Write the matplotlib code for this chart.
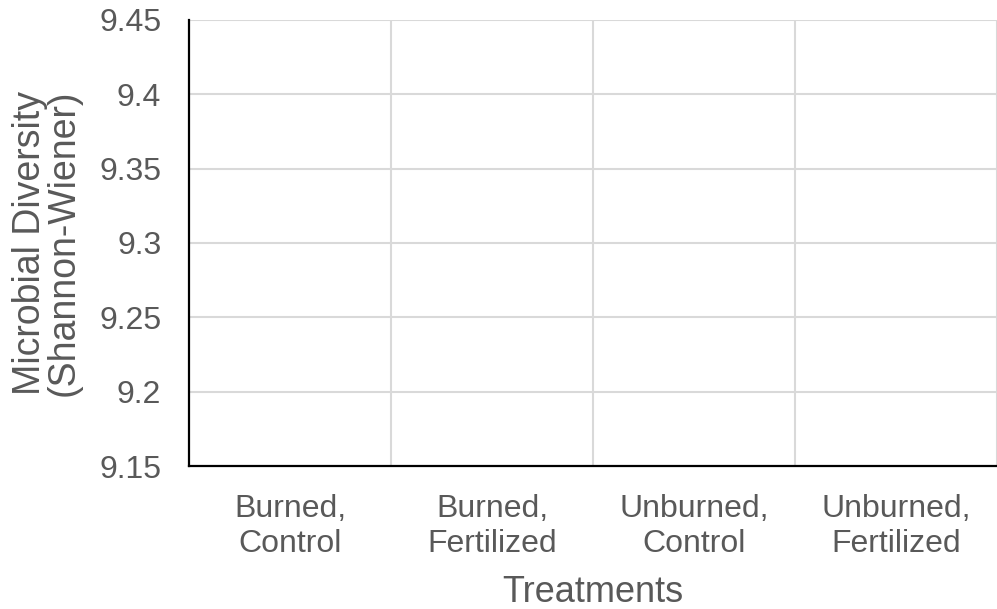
import matplotlib
matplotlib.use("Agg")
import matplotlib.pyplot as plt
import numpy as np

categories = ["Burned,\nControl", "Burned,\nFertilized", "Unburned,\nControl", "Unburned,\nFertilized"]
yticks = [9.15, 9.2, 9.25, 9.3, 9.35, 9.4, 9.45]
ytick_labels = ["9.15", "9.2", "9.25", "9.3", "9.35", "9.4", "9.45"]
values = []  # the chart shows no data marks

plt.rcParams['font.family'] = ['Liberation Sans', 'DejaVu Sans']
gray = "#595959"
grid = "#d9d9d9"

fig = plt.figure(figsize=(9.97, 6.09), dpi=100)
ax = fig.add_axes([0.1896, 0.2348, 0.8104, 0.7324])

x = np.arange(len(categories))
ax.set_xlim(-0.5, len(categories) - 0.5)
ax.set_ylim(yticks[0], yticks[-1])
ax.set_yticks(yticks)
ax.set_yticklabels(ytick_labels)
ax.set_xticks(x)
ax.set_xticklabels(categories)

for y in yticks[1:]:
    ax.axhline(y, color=grid, lw=1.5, zorder=0)
for xm in list(x[:-1] + 0.5) + [len(categories) - 0.5]:
    ax.axvline(xm, color=grid, lw=1.5, zorder=0)

ax.tick_params(axis='both', which='both', length=0, colors=gray, labelsize=23)
ax.tick_params(axis='y', pad=20)
ax.tick_params(axis='x', pad=20)
for lbl in ax.get_xticklabels():
    lbl.set_linespacing(1.22)

for s in ['top', 'right']:
    ax.spines[s].set_visible(False)
for s in ['left', 'bottom']:
    ax.spines[s].set_color('black')
    ax.spines[s].set_linewidth(1.6)

ax.set_xlabel("Treatments", fontsize=26, color=gray)
ax.xaxis.set_label_coords(0.5, -0.245)
ax.set_ylabel("Microbial Diversity\n(Shannon-Wiener)", fontsize=27, color=gray, linespacing=0.92)
ax.yaxis.set_label_coords(-0.133, 0.5)

fig.savefig("out.png", dpi=100)
